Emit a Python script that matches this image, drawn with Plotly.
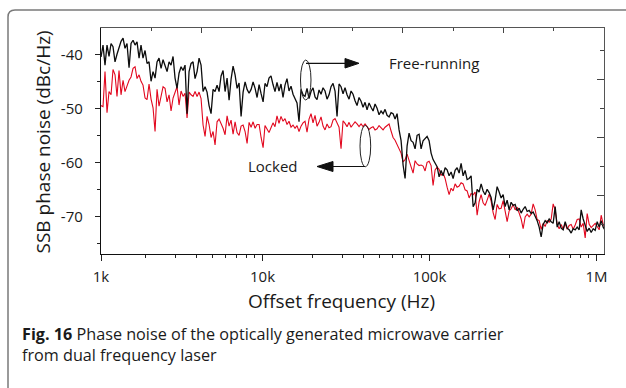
import plotly.graph_objects as go

# Offset frequency grid (Hz)
freq_hz = [1079, 1109, 1140, 1172, 1205, 1239, 1273, 1309, 1345, 1383,
           1422, 1462, 1502, 1544, 1588, 1632, 1678, 1725, 1773, 1823,
           1873, 1925, 1980, 2035, 2092, 2151, 2211, 2273, 2336, 2401,
           2469, 2538, 2609, 2682, 2757, 2834, 2913, 2995, 3078, 3164,
           3253, 3344, 3437, 3533, 3632, 3734, 3838, 3945, 4056, 4170,
           4286, 4406, 4529, 4656, 4786, 4920, 5058, 5199, 5345, 5495,
           5648, 5806, 5969, 6136, 6307, 6484, 6665, 6852, 7043, 7240,
           7443, 7651, 7865, 8085, 8311, 8544, 8783, 9029, 9281, 9541,
           9807, 10082, 10350, 10640, 10937, 11243, 11557, 11881, 12213, 12555,
           12906, 13267, 13638, 14020, 14412, 14816, 15230, 15656, 16094, 16545,
           17007, 17483, 17972, 18475, 18992, 19524, 20069, 20631, 21208, 21802,
           22411, 23039, 23682, 24345, 25026, 25727, 26446, 27186, 27946, 28729,
           29532, 30359, 31207, 32081, 32978, 33901, 34849, 35825, 36826, 37857,
           38915, 40005, 41123, 42274, 43456, 44673, 45922, 47208, 48527, 49886,
           51280, 52716, 54189, 55706, 57264, 58867, 60513, 62207, 63946, 65736,
           67574, 69466, 71408, 73407, 75459, 77572, 79740, 81973, 84264, 86623,
           89045, 91538, 94097, 96732, 99435, 102219, 105077, 108019, 111038, 114147,
           117338, 120623, 123995, 127467, 131030, 134699, 138464, 142341, 146320, 150417,
           154621, 158950, 163393, 167968, 172663, 177498, 182459, 187568, 192811, 198210,
           203750, 209455, 215310, 221339, 227525, 233896, 240434, 247166, 254075, 261189,
           268489, 276007, 283722, 291666, 299819, 308214, 316829, 325700, 334804, 344178,
           353799, 363705, 373871, 384340, 395082, 406144, 417497, 429187, 441183, 453536,
           466213, 479267, 492663, 506457, 520614, 535191, 550150, 565554, 581362, 597640,
           614345, 631547, 649199, 667377, 686030, 705239, 724951, 745250, 766080, 787530,
           809543, 832210, 855471, 879424, 904005, 929317, 955292, 982040, 1009489, 1037755,
           1066760, 1096629, 1127280]

# Free-running SSB phase noise (dBc/Hz)
free_running = [-40.5, -38.3, -42.0, -38.3, -40.4, -38.0, -38.6, -41.4, -40.0, -38.9,
                -37.6, -37.0, -38.9, -38.0, -42.5, -38.0, -37.4, -38.3, -37.7, -40.7,
                -38.3, -40.7, -39.3, -41.7, -41.4, -45.0, -43.2, -44.4, -41.4, -40.7,
                -42.6, -41.0, -42.0, -43.2, -41.4, -42.0, -40.4, -44.4, -46.3, -43.5,
                -42.3, -43.0, -42.0, -51.0, -43.2, -41.7, -41.4, -44.5, -43.2, -40.7,
                -42.0, -46.9, -46.0, -47.0, -49.5, -51.0, -46.5, -46.9, -45.7, -46.9,
                -44.0, -43.0, -46.9, -44.4, -48.5, -44.6, -42.2, -43.8, -46.3, -45.3,
                -51.5, -47.0, -45.1, -46.5, -47.2, -46.5, -45.1, -46.3, -48.0, -45.6,
                -47.3, -48.8, -45.4, -46.0, -44.4, -44.0, -45.6, -46.9, -45.2, -46.8,
                -45.5, -48.0, -45.7, -44.5, -46.8, -45.9, -47.4, -48.1, -49.0, -52.5,
                -46.5, -47.5, -47.8, -46.3, -48.2, -46.9, -46.2, -47.9, -48.4, -46.6,
                -47.4, -46.2, -46.8, -48.3, -47.5, -46.0, -45.4, -46.8, -51.5, -45.5,
                -46.0, -47.3, -46.2, -47.5, -48.3, -46.8, -47.4, -48.6, -49.5, -48.0,
                -48.7, -49.8, -48.9, -50.3, -49.0, -49.8, -50.5, -49.2, -50.0, -51.2,
                -50.5, -51.0, -50.2, -51.3, -51.6, -50.8, -51.0, -52.0, -51.0, -54.0,
                -56.0, -60.5, -63.0, -57.0, -54.6, -56.0, -56.3, -57.5, -55.0, -54.8,
                -57.5, -56.0, -55.5, -55.2, -56.0, -58.3, -59.5, -60.2, -60.8, -62.7,
                -61.5, -62.5, -61.0, -61.4, -62.5, -61.8, -63.0, -61.5, -61.0, -62.0,
                -60.2, -62.5, -61.5, -63.2, -63.0, -62.5, -68.2, -67.5, -65.0, -65.5,
                -64.0, -65.3, -66.0, -65.0, -65.6, -66.5, -68.8, -67.0, -64.5, -65.5,
                -66.6, -66.0, -68.2, -67.0, -68.8, -67.4, -68.0, -67.8, -69.0, -68.5,
                -69.4, -68.7, -68.2, -69.1, -68.9, -69.5, -69.2, -70.0, -70.8, -72.0,
                -73.8, -71.5, -70.8, -71.2, -70.5, -71.0, -71.3, -68.2, -72.0, -71.0,
                -72.2, -72.5, -71.0, -72.2, -72.5, -73.1, -72.3, -72.5, -72.0, -72.5,
                -68.8, -70.5, -71.6, -72.8, -72.2, -73.0, -72.3, -72.6, -71.0, -72.0,
                -70.8, -72.0, -72.6]

# Locked SSB phase noise (dBc/Hz)
locked = [-49.5, -49.7, -43.2, -50.8, -46.9, -47.5, -42.8, -43.8, -47.8, -43.0,
          -47.5, -44.8, -46.9, -45.7, -44.8, -44.2, -42.6, -42.3, -44.5, -43.8,
          -45.0, -45.7, -48.1, -48.4, -45.5, -48.3, -49.9, -54.3, -46.5, -49.6,
          -48.0, -46.0, -46.3, -48.8, -47.5, -50.5, -48.1, -46.9, -46.0, -49.4,
          -46.8, -47.8, -47.2, -51.8, -47.0, -47.5, -47.8, -46.9, -47.8, -47.0,
          -48.2, -53.1, -55.2, -51.5, -53.0, -55.4, -54.3, -56.8, -52.5, -52.0,
          -52.7, -53.7, -54.9, -51.4, -53.3, -52.2, -54.8, -52.5, -54.5, -55.0,
          -53.3, -53.1, -54.3, -56.5, -52.6, -53.5, -52.5, -53.7, -53.0, -53.0,
          -55.4, -57.3, -53.2, -54.0, -54.5, -53.6, -52.7, -53.4, -51.4, -52.8,
          -51.5, -52.4, -51.9, -53.0, -52.4, -53.5, -53.1, -53.7, -53.2, -54.3,
          -53.3, -52.7, -52.4, -54.4, -52.0, -51.0, -52.7, -51.3, -53.3, -52.6,
          -51.6, -53.3, -54.0, -52.9, -53.6, -53.4, -52.2, -51.9, -52.8, -53.5,
          -57.5, -52.3, -52.8, -53.4, -52.6, -53.5, -53.0, -52.5, -52.9, -53.4,
          -52.9, -53.4, -52.9, -53.3, -53.9, -53.6, -53.4, -54.0, -53.8, -53.2,
          -53.6, -54.0, -53.5, -53.2, -52.9, -54.2, -55.4, -55.9, -56.6, -57.4,
          -58.3, -59.9, -59.5, -58.5, -59.6, -60.6, -62.0, -59.7, -60.3, -60.6,
          -60.5, -60.7, -61.6, -60.0, -59.8, -60.6, -64.3, -61.4, -60.9, -61.3,
          -62.4, -62.0, -63.0, -64.6, -66.0, -64.8, -65.3, -64.0, -64.6, -64.4,
          -63.8, -64.0, -65.1, -65.3, -66.6, -65.8, -66.0, -65.5, -69.8, -67.3,
          -66.0, -67.5, -68.0, -67.0, -65.9, -67.2, -69.3, -70.6, -67.8, -68.6,
          -68.5, -67.1, -68.8, -71.0, -69.0, -68.6, -67.8, -68.8, -68.3, -69.3,
          -70.5, -72.3, -70.1, -69.6, -70.1, -69.6, -67.7, -68.8, -70.6, -70.8,
          -72.4, -71.3, -71.9, -70.8, -71.1, -70.5, -67.7, -68.8, -71.5, -72.3,
          -71.5, -72.4, -71.3, -72.4, -71.7, -71.5, -72.4, -71.6, -70.6, -70.5,
          -72.0, -71.3, -74.0, -69.5, -71.5, -72.1, -71.6, -71.3, -71.9, -72.5,
          -69.8, -71.5, -72.0]

x_tick_vals = [1079, 1e4, 1e5, 1e6]
x_tick_text = ["1k", "10k", "100k", "1M"]
x_minor_vals = [2000, 3000, 4000, 5000, 6000, 7000, 8000, 9000,
                20000, 30000, 40000, 50000, 60000, 70000, 80000, 90000,
                200000, 300000, 400000, 500000, 600000, 700000, 800000, 900000]
y_tick_vals = [-40, -50, -60, -70]
y_tick_text = ["-40", "-50", "-60", "-70"]
y_minor_vals = [-45, -55, -65, -75]

n = min(len(freq_hz), len(free_running), len(locked))

W, H = 626, 388
L, R, T, B = 101, 604, 28, 254


def X(px):
    return (px - L) / (R - L)


def Y(py):
    return (B - py) / (B - T)


FONT = "Open Sans, Noto Sans, sans-serif"

fig = go.Figure()
fig.add_trace(go.Scatter(x=freq_hz[:n], y=locked[:n], mode="lines",
                         line=dict(color="#e2081f", width=1.1), showlegend=False))
fig.add_trace(go.Scatter(x=freq_hz[:n], y=free_running[:n], mode="lines",
                         line=dict(color="#0d0d0d", width=1.3), showlegend=False))
fig.add_trace(go.Scatter(x=[], y=[], xaxis="x2", yaxis="y2", showlegend=False))

fig.update_layout(
    width=W, height=H,
    margin=dict(l=L, r=W - R, t=T, b=H - B, pad=0),
    paper_bgcolor="white", plot_bgcolor="white",
    font=dict(family=FONT, color="#1a1a1a"),
    xaxis=dict(type="log", range=[3.0329, 6.0449],
               tickvals=x_tick_vals, ticktext=x_tick_text,
               ticks="outside", ticklen=6, tickwidth=1, tickcolor="#222",
               ticklabelstandoff=3,
               minor=dict(tickvals=x_minor_vals, ticks="outside", ticklen=3,
                          tickwidth=1, tickcolor="#222", showgrid=False),
               showline=True, linecolor="#111", linewidth=1.3,
               showgrid=False, zeroline=False,
               tickfont=dict(size=15, family=FONT, color="#1a1a1a")),
    yaxis=dict(range=[-76.98, -35.13],
               tickvals=y_tick_vals, ticktext=y_tick_text,
               ticks="outside", ticklen=5, tickwidth=1, tickcolor="#222",
               ticklabelstandoff=9,
               minor=dict(tickvals=y_minor_vals, ticks="outside", ticklen=3,
                          tickwidth=1, tickcolor="#222", showgrid=False),
               showline=True, linecolor="#111", linewidth=1.3,
               showgrid=False, zeroline=False,
               tickfont=dict(size=15, family=FONT, color="#1a1a1a")),
    xaxis2=dict(overlaying="x", side="top", anchor="y2", range=[0, 10],
                tickvals=[0, 2, 4, 6, 8, 10], ticks="inside", ticklen=5,
                tickcolor="#444", tickwidth=1,
                minor=dict(tickvals=[1, 3, 5, 7, 9], ticks="inside", ticklen=3,
                           tickcolor="#444", tickwidth=1, showgrid=False),
                showticklabels=False, showline=True, linecolor="#555", linewidth=1.2,
                showgrid=False, zeroline=False),
    yaxis2=dict(overlaying="y", side="right", anchor="x2", range=[0, 7.79],
                tickvals=[2, 4, 6], ticks="inside", ticklen=7,
                tickcolor="#444", tickwidth=1,
                minor=dict(tickvals=[1, 3, 5, 7], ticks="inside", ticklen=4,
                           tickcolor="#444", tickwidth=1, showgrid=False),
                showticklabels=False, showline=True, linecolor="#555", linewidth=1.2,
                showgrid=False, zeroline=False),
)

# outer figure frame (rounded top-left corner)
r = 7
path = (f"M {X(8)},{Y(400)} L {X(8)},{Y(10 + r)} "
        f"Q {X(8)},{Y(10)} {X(8 + r)},{Y(10)} L {X(640)},{Y(10)}")
fig.add_shape(type="path", path=path, xref="paper", yref="paper",
              line=dict(color="#7a7a7a", width=1.5), layer="above")

# ellipses and arrows
fig.add_shape(type="circle", xref="paper", yref="paper",
              x0=X(300.5), x1=X(311), y0=Y(100), y1=Y(60),
              line=dict(color="#222", width=1))
fig.add_shape(type="line", xref="paper", yref="paper",
              x0=X(306), y0=Y(63.3), x1=X(346), y1=Y(63.3),
              line=dict(color="#111", width=1.2))
fig.add_shape(type="path", xref="paper", yref="paper",
              path=f"M {X(345)},{Y(58.5)} L {X(359)},{Y(63.3)} L {X(345)},{Y(68)} Z",
              fillcolor="#111", line=dict(color="#111", width=1))

fig.add_shape(type="circle", xref="paper", yref="paper",
              x0=X(360), x1=X(370.7), y0=Y(166.7), y1=Y(125.5),
              line=dict(color="#222", width=1))
fig.add_shape(type="line", xref="paper", yref="paper",
              x0=X(365), y0=Y(166.5), x1=X(332), y1=Y(166.5),
              line=dict(color="#111", width=1.2))
fig.add_shape(type="path", xref="paper", yref="paper",
              path=f"M {X(333)},{Y(161.5)} L {X(317)},{Y(166.5)} L {X(333)},{Y(171.5)} Z",
              fillcolor="#111", line=dict(color="#111", width=1))

ann = [
    dict(text="Free-running", x=X(434), y=Y(63.5), size=15),
    dict(text="Locked", x=X(272.5), y=Y(165.5), size=15),
    dict(text="Offset frequency (Hz)", x=X(341.5), y=Y(300.5), size=19),
]
for a in ann:
    fig.add_annotation(text=a["text"], x=a["x"], y=a["y"], xref="paper", yref="paper",
                       showarrow=False, xanchor="center", yanchor="middle",
                       font=dict(size=a["size"], family=FONT, color="#1a1a1a"))

fig.add_annotation(text="SSB phase noise (dBc/Hz)", x=X(42), y=Y(142.5),
                   xref="paper", yref="paper", showarrow=False, textangle=-90,
                   xanchor="center", yanchor="middle",
                   font=dict(size=19, family=FONT, color="#1a1a1a"))

fig.add_annotation(
    text="<b>Fig. 16</b> Phase noise of the optically generated microwave carrier<br>from dual frequency laser",
    x=X(20), y=Y(321), xref="paper", yref="paper", showarrow=False,
    xanchor="left", yanchor="top", align="left",
    font=dict(size=16.2, family=FONT, color="#1a1a1a"))

fig.write_html("out.html")
